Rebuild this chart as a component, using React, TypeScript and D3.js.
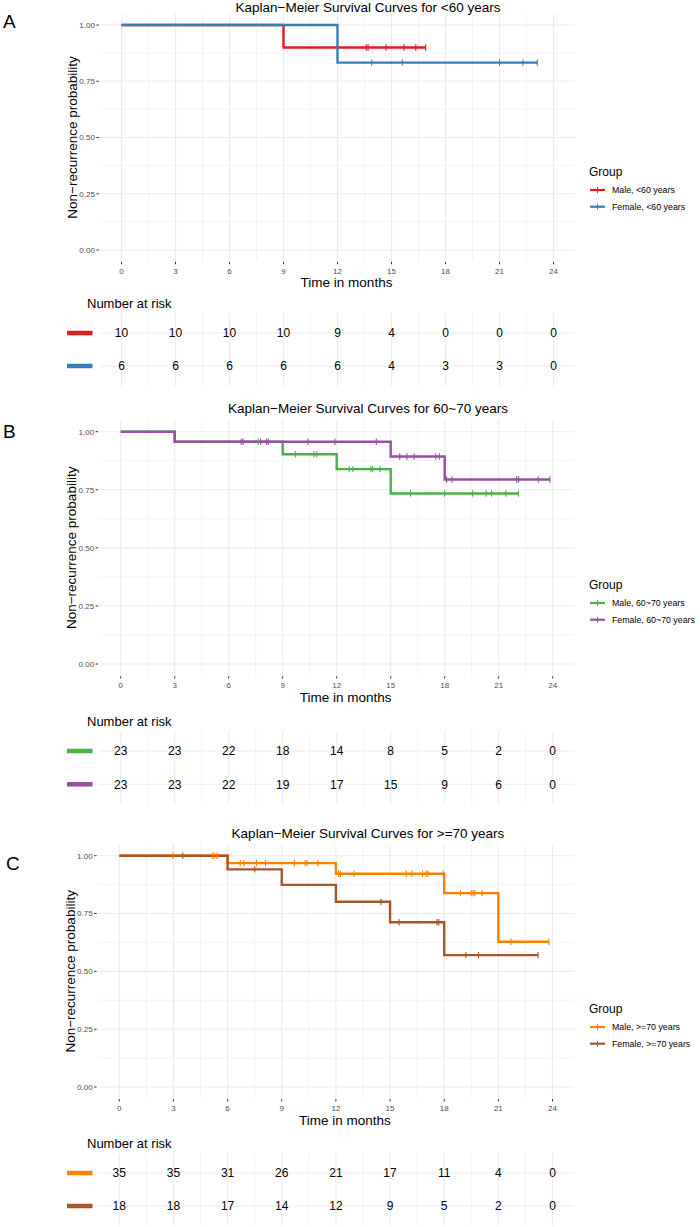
import React from "react"
import * as d3 from "d3"

// axis breaks
const months = [0, 3, 6, 9, 12, 15, 18, 21, 24]
const minorMonths = [1.5, 4.5, 7.5, 10.5, 13.5, 16.5, 19.5, 22.5]
const probTicks = [0, 0.25, 0.5, 0.75, 1]
const minorProb = [0.125, 0.375, 0.625, 0.875]

// panel A: <60 years
const maleA_times = [0, 9]
const maleA_surv = [1, 0.9]
const maleA_end = 16.9
const maleA_censor = [13.6, 13.7, 14.7, 15.7, 16.35, 16.9]
const maleA_risk = [10, 10, 10, 10, 9, 4, 0, 0, 0]

const femaleA_times = [0, 12]
const femaleA_surv = [1, 0.833]
const femaleA_end = 23.1
const femaleA_censor = [13.9, 15.6, 21.0, 22.3, 23.1]
const femaleA_risk = [6, 6, 6, 6, 6, 4, 3, 3, 0]

// panel B: 60~70 years
const maleB_times = [0, 3, 9, 12, 15]
const maleB_surv = [1, 0.957, 0.903, 0.839, 0.734]
const maleB_end = 22.1
const maleB_censor = [7.64, 9.7, 10.74, 10.9, 12.7, 12.9, 13.9, 14.0, 14.4, 16.1, 18.0, 19.55, 20.3, 20.6, 21.4, 22.1]
const maleB_risk = [23, 23, 22, 18, 14, 8, 5, 2, 0]

const femaleB_times = [0, 3, 15, 18]
const femaleB_surv = [1, 0.957, 0.893, 0.794]
const femaleB_end = 23.85
const femaleB_censor = [6.7, 6.8, 7.78, 8.1, 8.2, 10.4, 11.9, 14.2, 15.5, 15.9, 16.3, 17.5, 17.7, 18.1, 18.4, 22.0, 22.1, 23.2, 23.85]
const femaleB_risk = [23, 23, 22, 19, 17, 15, 9, 6, 0]

// panel C: >=70 years
const maleC_times = [0, 6, 12, 18, 21]
const maleC_surv = [1, 0.968, 0.922, 0.838, 0.628]
const maleC_end = 23.8
const maleC_censor = [2.97, 5.15, 5.26, 5.41, 6.7, 6.9, 7.6, 8.1, 9.7, 10.3, 10.4, 11.0, 12.15, 12.25, 13.0, 15.9, 16.2, 16.8, 17.0, 17.1, 17.95, 18.9, 19.5, 19.6, 19.7, 20.1, 21.7, 23.8]
const maleC_risk = [35, 35, 31, 26, 21, 17, 11, 4, 0]

const femaleC_times = [0, 6, 9, 12, 15, 18]
const femaleC_surv = [1, 0.941, 0.874, 0.801, 0.712, 0.57]
const femaleC_end = 23.2
const femaleC_censor = [3.52, 7.5, 14.5, 15.5, 17.6, 17.7, 19.2, 19.9, 23.2]
const femaleC_risk = [18, 18, 17, 14, 12, 9, 5, 2, 0]

type Series = {
  label: string
  color: string
  times: number[]
  surv: number[]
  end: number
  censor: number[]
  risk: number[]
}

type Layout = {
  letter: string
  title: string
  titleY: number
  letterX: number
  letterY: number
  x0: number
  perMonth: number
  yOne: number
  yZero: number
  rowTop: number
  rowGap: number
  legendY: number
}

const panels: { layout: Layout; series: Series[] }[] = [
  {
    layout: { letter: "A", title: "Kaplan\u2212Meier Survival Curves for <60 years", titleY: 11.5, letterX: 3, letterY: 28, x0: 121.5, perMonth: 18, yOne: 25, yZero: 250, rowTop: 333, rowGap: 33, legendY: 172 },
    series: [
      { label: "Male, <60 years", color: "#E41A1C", times: maleA_times, surv: maleA_surv, end: maleA_end, censor: maleA_censor, risk: maleA_risk },
      { label: "Female, <60 years", color: "#377EB8", times: femaleA_times, surv: femaleA_surv, end: femaleA_end, censor: femaleA_censor, risk: femaleA_risk },
    ],
  },
  {
    layout: { letter: "B", title: "Kaplan\u2212Meier Survival Curves for 60~70 years", titleY: 413, letterX: 3, letterY: 438, x0: 120.7, perMonth: 18, yOne: 431.7, yZero: 664, rowTop: 751, rowGap: 33.3, legendY: 585 },
    series: [
      { label: "Male, 60~70 years", color: "#4DAF4A", times: maleB_times, surv: maleB_surv, end: maleB_end, censor: maleB_censor, risk: maleB_risk },
      { label: "Female, 60~70 years", color: "#984EA3", times: femaleB_times, surv: femaleB_surv, end: femaleB_end, censor: femaleB_censor, risk: femaleB_risk },
    ],
  },
  {
    layout: { letter: "C", title: "Kaplan\u2212Meier Survival Curves for >=70 years", titleY: 838, letterX: 6, letterY: 870, x0: 119.3, perMonth: 18.05, yOne: 855.7, yZero: 1087, rowTop: 1173, rowGap: 33, legendY: 1009 },
    series: [
      { label: "Male, >=70 years", color: "#FF7F00", times: maleC_times, surv: maleC_surv, end: maleC_end, censor: maleC_censor, risk: maleC_risk },
      { label: "Female, >=70 years", color: "#A65628", times: femaleC_times, surv: femaleC_surv, end: femaleC_end, censor: femaleC_censor, risk: femaleC_risk },
    ],
  },
]

const font = "'Liberation Sans', Arial, Helvetica, sans-serif"
const grid = "#EBEBEB"

const survAt = (s: Series, t: number) => {
  let v = s.surv[0]
  s.times.forEach((tt, i) => {
    if (tt <= t) v = s.surv[i]
  })
  return v
}

const Panel = ({ layout, series }: { layout: Layout; series: Series[] }) => {
  const x = d3
    .scaleLinear()
    .domain([0, 24])
    .range([layout.x0, layout.x0 + 24 * layout.perMonth])
  const y = d3.scaleLinear().domain([0, 1]).range([layout.yZero, layout.yOne])
  const left = x(-1.2)
  const right = x(25.2)
  const top = y(1.05)
  const bottom = y(-0.05)

  const row = d3
    .scalePoint<string>()
    .domain(series.map((s) => s.label))
    .range([layout.rowTop, layout.rowTop + layout.rowGap])
  const tTop = layout.rowTop - 0.6 * layout.rowGap
  const tBottom = layout.rowTop + 1.6 * layout.rowGap

  const step = d3
    .line<[number, number]>()
    .x((d) => x(d[0]))
    .y((d) => y(d[1]))
    .curve(d3.curveStepAfter)

  const midX = (left + right) / 2 + 9

  return (
    <g fontFamily={font}>
      <text x={layout.letterX} y={layout.letterY} fontSize={19}>
        {layout.letter}
      </text>
      <text x={368} y={layout.titleY} fontSize={13.5} textAnchor="middle">
        {layout.title}
      </text>

      {/* plot grid */}
      {minorProb.map((p) => (
        <line key={"mp" + p} x1={left} x2={right} y1={y(p)} y2={y(p)} stroke={grid} strokeWidth={0.6} />
      ))}
      {minorMonths.map((m) => (
        <line key={"mm" + m} x1={x(m)} x2={x(m)} y1={top} y2={bottom} stroke={grid} strokeWidth={0.6} />
      ))}
      {probTicks.map((p) => (
        <line key={"gp" + p} x1={left} x2={right} y1={y(p)} y2={y(p)} stroke={grid} strokeWidth={1.1} />
      ))}
      {months.map((m) => (
        <line key={"gm" + m} x1={x(m)} x2={x(m)} y1={top} y2={bottom} stroke={grid} strokeWidth={1.1} />
      ))}

      {/* y axis */}
      {probTicks.map((p) => (
        <g key={"yt" + p}>
          <line x1={left - 3.5} x2={left - 1} y1={y(p)} y2={y(p)} stroke="#333" strokeWidth={1} />
          <text x={left - 5} y={y(p)} dy="0.35em" fontSize={8} fill="#4D4D4D" textAnchor="end">
            {p.toFixed(2)}
          </text>
        </g>
      ))}
      <text
        transform={`translate(${left - 23}, ${(top + bottom) / 2}) rotate(-90)`}
        fontSize={13.5}
        textAnchor="middle"
      >
        Non{"\u2212"}recurrence probability
      </text>

      {/* x axis */}
      {months.map((m) => (
        <g key={"xt" + m}>
          <line x1={x(m)} x2={x(m)} y1={bottom + 0.5} y2={bottom + 3} stroke="#333" strokeWidth={1} />
          <text x={x(m)} y={bottom + 12.5} fontSize={8} fill="#4D4D4D" textAnchor="middle">
            {m}
          </text>
        </g>
      ))}
      <text x={midX} y={bottom + 26} fontSize={13.5} textAnchor="middle">
        Time in months
      </text>

      {/* curves */}
      {series.map((s) => {
        const pts: [number, number][] = s.times.map((t, i) => [t, s.surv[i]])
        pts.push([s.end, s.surv[s.surv.length - 1]])
        return <path key={s.label} d={step(pts) ?? ""} fill="none" stroke={s.color} strokeWidth={2.4} />
      })}
      {series.map((s) =>
        s.censor.map((c, i) => (
          <line
            key={s.label + "c" + i}
            x1={x(c)}
            x2={x(c)}
            y1={y(survAt(s, c)) - 3.2}
            y2={y(survAt(s, c)) + 3.2}
            stroke={s.color}
            strokeWidth={1.1}
          />
        )),
      )}

      {/* legend */}
      <text x={589} y={layout.legendY} dy="0.35em" fontSize={12}>
        Group
      </text>
      {series.map((s, i) => {
        const ly = layout.legendY + 18 + i * 16.7
        return (
          <g key={"lg" + s.label}>
            <line x1={590} x2={605} y1={ly} y2={ly} stroke={s.color} strokeWidth={2.2} />
            <line x1={597.5} x2={597.5} y1={ly - 3} y2={ly + 3} stroke={s.color} strokeWidth={1} />
            <text x={612} y={ly} dy="0.35em" fontSize={8.8}>
              {s.label}
            </text>
          </g>
        )
      })}

      {/* risk table */}
      <text x={87} y={tTop - 10} dy="0.35em" fontSize={13}>
        Number at risk
      </text>
      {minorMonths.map((m) => (
        <line key={"tm" + m} x1={x(m)} x2={x(m)} y1={tTop} y2={tBottom} stroke={grid} strokeWidth={0.6} />
      ))}
      {months.map((m) => (
        <line key={"tg" + m} x1={x(m)} x2={x(m)} y1={tTop} y2={tBottom} stroke={grid} strokeWidth={1.1} />
      ))}
      {series.map((s) => (
        <line key={"tr" + s.label} x1={left} x2={right} y1={row(s.label)} y2={row(s.label)} stroke={grid} strokeWidth={1.1} />
      ))}
      {series.map((s) => (
        <g key={"rk" + s.label}>
          <line x1={67} x2={92.5} y1={row(s.label)} y2={row(s.label)} stroke={s.color} strokeWidth={4.5} />
          {s.risk.map((n, i) => (
            <text key={i} x={x(months[i])} y={row(s.label)} dy="0.36em" fontSize={12} textAnchor="middle">
              {n}
            </text>
          ))}
        </g>
      ))}
    </g>
  )
}

export default function App() {
  return (
    <svg
      width={700}
      height={1227}
      style={{ position: "absolute", left: 0, top: 0, background: "#fff" }}
    >
      <rect width={700} height={1227} fill="#fff" />
      {panels.map((p) => (
        <Panel key={p.layout.letter} layout={p.layout} series={p.series} />
      ))}
    </svg>
  )
}
